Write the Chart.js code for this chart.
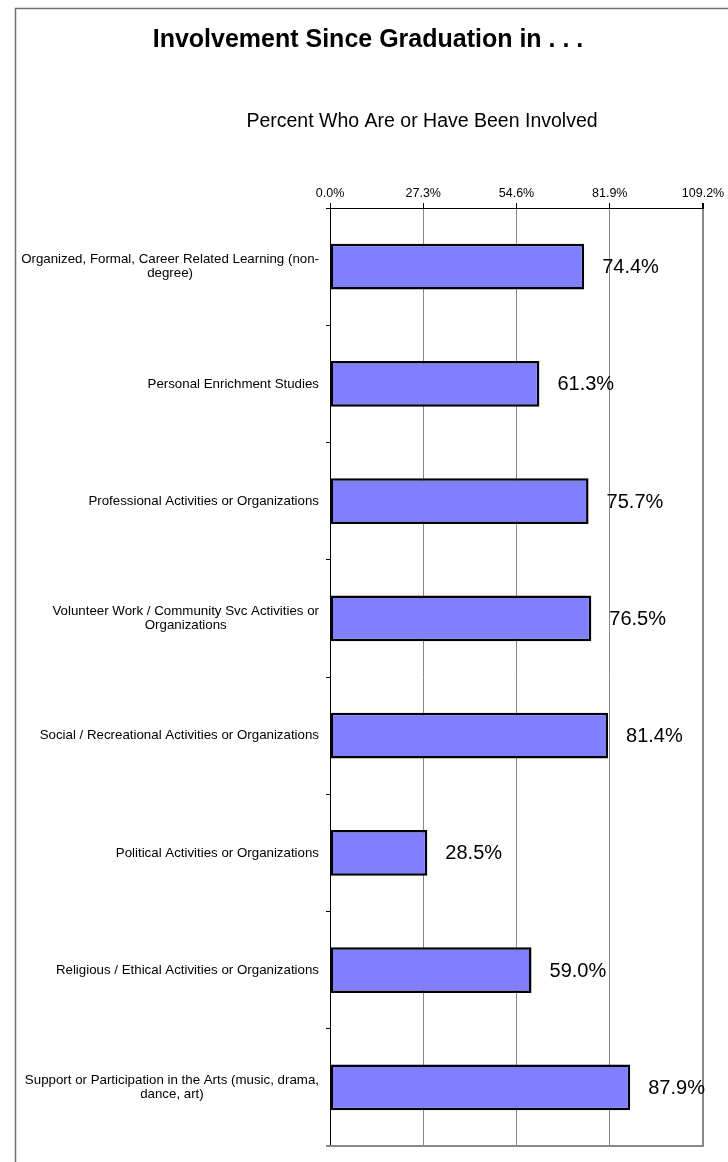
<!DOCTYPE html>
<html>
<head>
<meta charset="utf-8">
<title>Involvement Since Graduation</title>
<script src="https://cdn.jsdelivr.net/npm/chart.js@4.4.1/dist/chart.umd.min.js"></script>
<style>
  body { margin: 0; background: #fff; }
  canvas { display: block; }
</style>
</head>
<body>
<canvas id="involvementChart" width="728" height="1162"></canvas>
<script>
// Category labels (line breaks as in the original)
const categories = [
    ['Organized, Formal, Career Related Learning (non-', 'degree)'],
    ['Personal Enrichment Studies'],
    ['Professional Activities or Organizations'],
    ['Volunteer Work / Community Svc Activities or', 'Organizations'],
    ['Social / Recreational Activities or Organizations'],
    ['Political Activities or Organizations'],
    ['Religious / Ethical Activities or Organizations'],
    ['Support or Participation in the Arts (music, drama,', 'dance, art)']
];
// Percent who are or have been involved
const values = [74.4, 61.3, 75.7, 76.5, 81.4, 28.5, 59.0, 87.9];
const tickValues = [0, 27.3, 54.6, 81.9, 109.2];

const FONT = "'Liberation Sans', Arial, sans-serif";

// frame, titles, category labels, value labels, plot border
const decorations = {
    id: 'decorations',
    beforeDraw(chart) {
        const ctx = chart.ctx;
        ctx.save();
        ctx.strokeStyle = '#707070';
        ctx.lineWidth = 1.5;
        ctx.beginPath();
        ctx.moveTo(15.5, chart.height);
        ctx.lineTo(15.5, 8.5);
        ctx.lineTo(chart.width, 8.5);
        ctx.stroke();

        ctx.fillStyle = '#000';
        ctx.textAlign = 'center';
        ctx.textBaseline = 'middle';
        ctx.font = 'bold 25px ' + FONT;
        ctx.fillText('Involvement Since Graduation in . . .', 368, 40);
        ctx.font = '19.5px ' + FONT;
        ctx.fillText('Percent Who Are or Have Been Involved', 422, 122);
        ctx.restore();
    },
    afterDraw(chart) {
        const ctx = chart.ctx;
        const area = chart.chartArea;
        const yScale = chart.scales.y;
        ctx.save();

        // bottom border of the plot area
        ctx.strokeStyle = '#888';
        ctx.lineWidth = 2;
        ctx.beginPath();
        ctx.moveTo(area.left - 4, area.bottom);
        ctx.lineTo(area.right + 1, area.bottom);
        ctx.stroke();

        // category labels: lines centred on each other, block right-aligned
        ctx.fillStyle = '#000';
        ctx.font = '13.3px ' + FONT;
        ctx.textBaseline = 'middle';
        ctx.textAlign = 'center';
        const rightEdge = area.left - 11;
        const lineH = 14;
        categories.forEach((lines, i) => {
            const cy = yScale.getPixelForValue(i);
            const maxW = Math.max(...lines.map(l => ctx.measureText(l).width));
            const cx = rightEdge - maxW / 2;
            const y0 = cy - (lines.length - 1) * lineH / 2;
            lines.forEach((l, j) => ctx.fillText(l, cx, y0 + j * lineH));
        });

        // value labels beside bars
        ctx.font = '20px ' + FONT;
        ctx.textAlign = 'left';
        const meta = chart.getDatasetMeta(0);
        meta.data.forEach((bar, i) => {
            ctx.fillText(values[i].toFixed(1) + '%', bar.x + 18, bar.y + 1);
        });
        ctx.restore();
    }
};

const chartCtx = document.getElementById('involvementChart').getContext('2d');
const involvementChart = new Chart(chartCtx, {
    type: 'bar',
    data: {
        labels: categories.map(l => l.join(' ')),
        datasets: [{
            data: values,
            backgroundColor: '#8080FF',
            borderColor: '#000',
            borderWidth: 2.5,
            borderSkipped: false,
            barPercentage: 0.392,
            categoryPercentage: 1
        }]
    },
    options: {
        indexAxis: 'y',
        responsive: false,
        animation: false,
        layout: { padding: { top: 178, right: 25, bottom: 16, left: 0 } },
        plugins: {
            legend: { display: false },
            tooltip: { enabled: false }
        },
        scales: {
            x: {
                type: 'linear',
                position: 'top',
                min: 0,
                max: 109.2,
                afterBuildTicks(scale) {
                    scale.ticks = tickValues.map(v => ({ value: v }));
                },
                afterFit(scale) {
                    scale.height = 30;
                    scale.paddingLeft = 0;
                    scale.paddingRight = 0;
                },
                border: { display: true, color: '#000', width: 1 },
                grid: {
                    color: c => '#888',
                    lineWidth: c => (c.index === tickValues.length - 1 ? 2 : 1),
                    tickColor: '#000',
                    tickLength: 5
                },
                ticks: {
                    color: '#000',
                    font: { family: FONT, size: 12.5 },
                    padding: 2,
                    maxRotation: 0,
                    callback: v => Number(v).toFixed(1) + '%'
                }
            },
            y: {
                afterFit(scale) {
                    scale.width = 330;
                },
                border: { display: true, color: '#000', width: 1 },
                grid: {
                    drawOnChartArea: false,
                    offset: true,
                    tickColor: '#000',
                    tickLength: 4
                },
                ticks: { display: false }
            }
        }
    },
    plugins: [decorations]
});
</script>
</body>
</html>
